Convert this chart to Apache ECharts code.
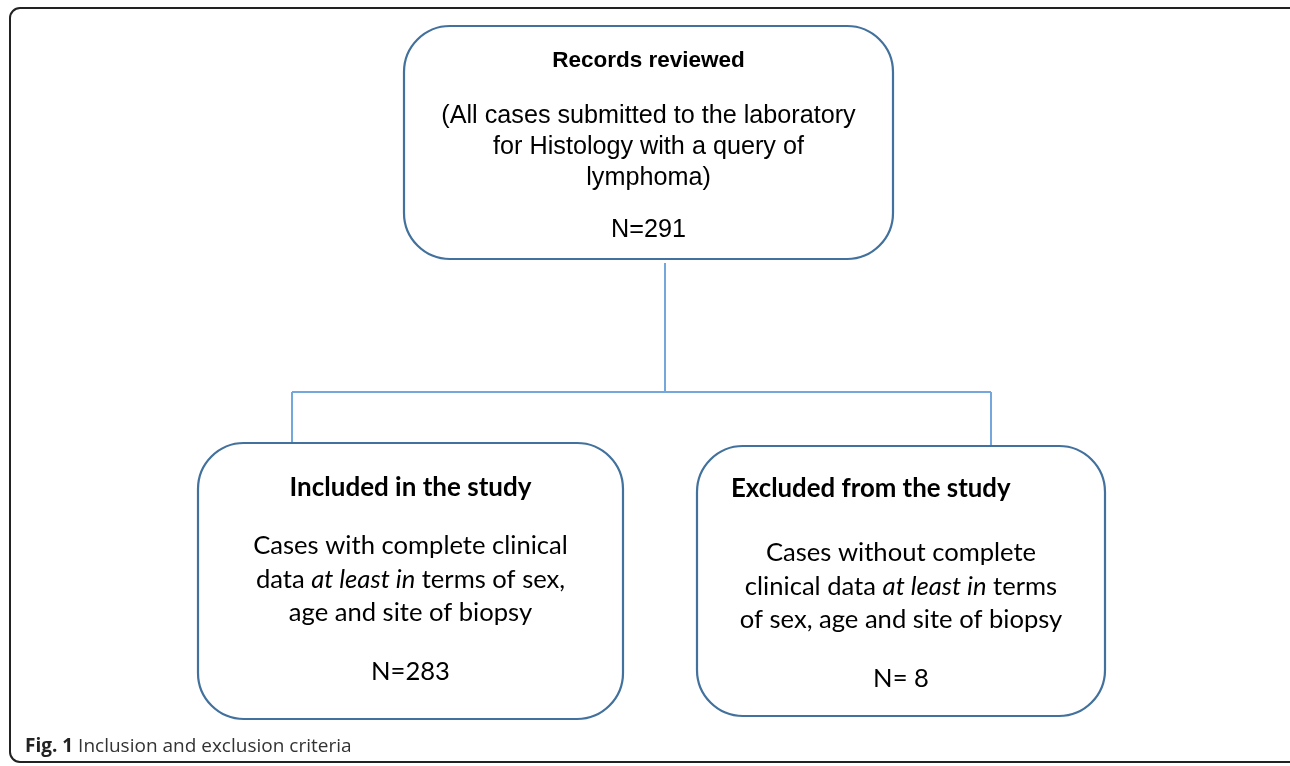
<!DOCTYPE html>
<html>
<head>
<meta charset="utf-8">
<title>Fig. 1 Inclusion and exclusion criteria</title>
<script src="https://cdn.jsdelivr.net/npm/echarts@6/dist/echarts.min.js"></script>
<style>
  html, body { margin: 0; padding: 0; background: #fff; }
  #chart { width: 1290px; height: 766px; }
</style>
</head>
<body>
<div id="chart"></div>
<script>
// flowchart content
const boxTitles = ['Records reviewed', 'Included in the study', 'Excluded from the study']
const boxBodies = [
  ['(All cases submitted to the laboratory', 'for Histology with a query of', 'lymphoma)'],
  ['Cases with complete clinical', 'data {i|at least in} terms of sex,', 'age and site of biopsy'],
  ['Cases without complete', 'clinical data {i|at least in} terms', 'of sex, age and site of biopsy']
]
const boxCounts = ['N=291', 'N=283', 'N= 8']
const caption = ['Fig. 1', 'Inclusion and exclusion criteria']

// layout in page units (x right, y down)
const boxFrames = [
  [404, 26, 893, 259],
  [198, 443, 623, 719],
  [697, 446, 1105, 716]
]
const textRows = [
  // titleY, titleX (null = centered), first body line, line step, count line
  [61, null, 116, 31, 230],
  [488, null, 546, 33.5, 672],
  [489, 731, 553, 33.5, 679]
]
const connectors = [
  [665, 263, 665, 392],
  [292, 392, 991, 392],
  [292, 392, 292, 443],
  [991, 392, 991, 446]
]

const fonts = [
  { family: 'Liberation Sans, Arial, sans-serif', title: 22.5, body: 25.2 },
  { family: 'Lato, Carlito, Calibri, sans-serif', title: 26, body: 25.6 },
  { family: 'Lato, Carlito, Calibri, sans-serif', title: 25.8, body: 25.6 }
]

const boxColor = '#41719c'
const lineColor = '#74a7dc'

const chart = echarts.init(document.getElementById('chart'))

const renderBox = (params, api) => {
  const i = params.dataIndex
  const [x0, y0, x1, y1] = boxFrames[i]
  const p0 = api.coord([x0, y0])
  const p1 = api.coord([x1, y1])
  const [tY, tX, bY, step, cY] = textRows[i]
  const f = fonts[i]
  const cx = (p0[0] + p1[0]) / 2
  const ty = (v) => api.coord([0, v])[1]
  const plain = { fontFamily: f.family, fontSize: f.body, fill: '#000' }
  const children = [{
    type: 'rect',
    shape: { x: p0[0], y: p0[1], width: p1[0] - p0[0], height: p1[1] - p0[1], r: 46 },
    style: { fill: '#fff', stroke: boxColor, lineWidth: 2.2 }
  }, {
    type: 'text',
    style: {
      text: boxTitles[i],
      x: tX === null ? cx : api.coord([tX, 0])[0],
      y: ty(tY),
      align: tX === null ? 'center' : 'left',
      verticalAlign: 'middle',
      fontFamily: f.family, fontSize: f.title, fontWeight: 'bold', fill: '#000'
    }
  }]
  boxBodies[i].forEach((line, k) => {
    children.push({
      type: 'text',
      style: {
        text: line, x: cx, y: ty(bY + k * step),
        align: 'center', verticalAlign: 'middle',
        fontFamily: f.family, fontSize: f.body, fill: '#000',
        rich: {
          i: { fontFamily: f.family, fontSize: f.body, fontStyle: 'italic', fill: '#000' }
        }
      }
    })
  })
  children.push({
    type: 'text',
    style: Object.assign({ text: boxCounts[i], x: cx, y: ty(cY), align: 'center', verticalAlign: 'middle' }, plain)
  })
  return { type: 'group', children }
}

const renderConnector = (params, api) => {
  const a = api.coord([api.value(0), api.value(1)])
  const b = api.coord([api.value(2), api.value(3)])
  return {
    type: 'line',
    shape: { x1: a[0], y1: a[1], x2: b[0], y2: b[1] },
    style: { stroke: lineColor, lineWidth: 2 }
  }
}

const option = {
  animation: false,
  backgroundColor: '#fff',
  grid: { left: 0, right: 0, top: 0, bottom: 0 },
  xAxis: { type: 'value', min: 0, max: 1290, show: false },
  yAxis: { type: 'value', min: 0, max: 766, inverse: true, show: false },
  title: {
    left: 20, top: 732,
    text: '{b|' + caption[0] + '} {n|' + caption[1] + '}',
    textStyle: {
      fontWeight: 'normal',
      fontFamily: 'Open Sans, sans-serif',
      fontSize: 19,
      rich: {
        b: { fontFamily: 'Open Sans, sans-serif', fontSize: 19, fontWeight: 'bold', color: '#222' },
        n: { fontFamily: 'Open Sans, sans-serif', fontSize: 19, fontWeight: 'normal', color: '#333' }
      }
    }
  },
  graphic: [{
    // outer figure frame
    type: 'rect', z: -1, silent: true,
    shape: { x: 10, y: 8, width: 1290, height: 754, r: 10 },
    style: { fill: 'none', stroke: '#222', lineWidth: 2 }
  }],
  series: [{
    type: 'custom',
    name: 'connectors',
    coordinateSystem: 'cartesian2d',
    renderItem: renderConnector,
    data: connectors,
    silent: true,
    z: 1
  }, {
    type: 'custom',
    name: 'boxes',
    coordinateSystem: 'cartesian2d',
    renderItem: renderBox,
    data: boxFrames.map((b, i) => [b[0], b[1], i]),
    silent: true,
    z: 2
  }]
}

chart.setOption(option)
window.addEventListener('resize', () => chart.resize())
</script>
</body>
</html>
